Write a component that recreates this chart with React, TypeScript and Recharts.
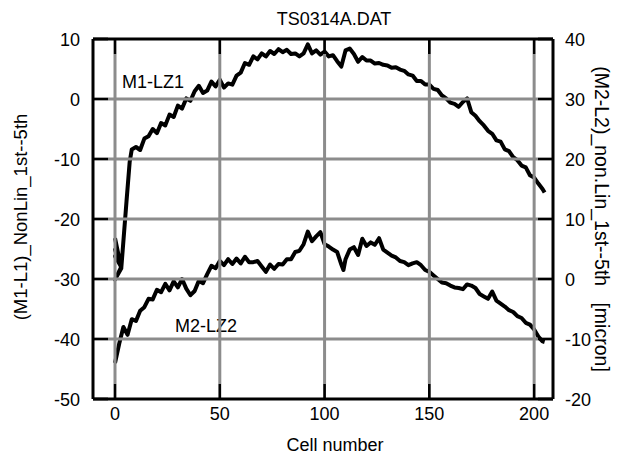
import { Line, LineChart, ReferenceDot, XAxis, YAxis } from 'recharts';

const FONT = '"Liberation Sans", Arial, sans-serif';

// M1-LZ1 (left axis). The first points go back and forth near cell 0.
const m1Cells = [
  0, 3, 0, 3, 0, 3, 0, 3, 5.5, 7, 8,
  10, 12, 14, 16, 18, 20, 22, 24, 26, 28,
  30, 32, 34, 36, 38, 40, 42, 44, 46, 48,
  50, 52, 54, 56, 58, 60, 62, 64, 66, 68,
  70, 72, 74, 76, 78, 80, 82, 84, 86, 88,
  90, 92, 94, 96, 98, 100, 102, 104, 106, 108,
  110, 112, 114, 116, 118, 120, 122, 124, 126, 128,
  130, 132, 134, 136, 138, 140, 142, 144, 146, 148,
  150, 152, 154, 156, 158, 160, 162, 164, 166, 168,
  170, 172, 174, 176, 178, 180, 182, 184, 186, 188,
  190, 192, 194, 196, 198, 200, 202, 204, 205,
];
const m1Values = [
  -23.2, -28.2, -25.1, -27.9, -26.2, -28.0, -30.1, -28.2, -17.0, -10.5, -8.4,
  -8.0, -8.5, -6.6, -6.2, -5.0, -5.7, -4.0, -4.4, -2.6, -3.0,
  -1.1, -1.6, 0.1, -0.3, 1.3, 2.2, 1.0, 1.4, 2.9, 2.1,
  3.2, 1.9, 2.6, 2.4, 3.9, 4.4, 6.0, 5.7, 7.1, 6.6,
  7.6, 7.1, 8.0, 7.5, 8.3, 7.8, 8.2, 7.5, 7.6, 7.1,
  7.6, 9.1, 7.6, 8.1, 7.4, 7.9, 7.1, 7.3, 6.3, 5.4,
  8.1, 8.4, 7.5, 6.2, 7.0, 6.4, 6.4, 5.9, 6.0, 5.7,
  5.6, 5.2, 5.3, 4.9, 4.7, 4.1, 3.9, 3.0, 3.0, 2.4,
  2.4, 1.7, 1.5, 0.6, 0.1, -0.6, -0.8, -1.3, -0.5, 0.1,
  -2.2, -2.8, -3.7, -4.4, -5.3, -5.8, -6.9, -7.1, -8.4, -8.7,
  -9.7, -10.2, -11.1, -11.4, -12.7, -13.1, -14.1, -15.0, -15.6,
];

// M2-LZ2 (right axis, micron)
const m2Cells = [
  0, 2, 4, 6, 8, 10, 12, 14, 16, 18,
  20, 22, 24, 26, 28, 30, 32, 34, 36, 38,
  40, 42, 44, 46, 48, 50, 52, 54, 56, 58,
  60, 62, 64, 66, 68, 70, 72, 74, 76, 78,
  80, 82, 84, 86, 88, 90, 92, 94, 96, 98,
  100, 102, 104, 106, 108, 109,
  110, 112, 114, 116, 118, 120, 122, 124, 126, 128,
  130, 132, 134, 136, 138, 140, 142, 144, 146, 148,
  150, 152, 154, 156, 158, 160, 162, 164, 166, 168,
  170, 172, 174, 176, 178, 180, 182, 184, 186, 188,
  190, 192, 194, 196, 198, 200, 202, 204, 205,
];
const m2Values = [
  -14.0, -10.8, -8.0, -9.3, -6.7, -7.0, -5.3, -4.7, -3.3, -3.4,
  -1.8, -2.2, -0.8, -1.9, -0.4, -1.4, 0.0, -1.6, -2.7, -2.0,
  -0.3, -0.7, 0.8, 2.2, 1.8, 3.0, 2.3, 3.3, 2.5, 3.4,
  2.6, 3.7, 2.8, 2.8, 3.0, 2.1, 1.2, 2.4, 1.7, 2.5,
  2.4, 3.3, 3.3, 4.5, 4.7, 5.8, 7.9, 6.3, 7.1, 7.8,
  5.8, 5.4, 4.9, 4.5, 2.4, 1.5,
  3.3, 4.9, 5.3, 4.0, 6.7, 5.5, 6.1, 5.7, 6.8, 4.9,
  4.4, 3.9, 3.6, 3.0, 2.8, 2.3, 2.6, 2.8, 2.3, 1.5,
  1.2, 0.6, 0.0, -0.6, -0.7, -1.1, -1.4, -1.5, -1.7, -0.9,
  -1.1, -1.5, -2.5, -2.9, -3.3, -2.1, -3.6, -4.1, -4.6, -5.2,
  -5.5, -6.2, -6.5, -7.3, -7.6, -8.4, -9.6, -10.4, -10.5,
];

const xTicks = [0, 50, 100, 150, 200];
const leftTicks = [-50, -40, -30, -20, -10, 0, 10];
const rightTicks = [-20, -10, 0, 10, 20, 30, 40];

const m1Data = m1Cells.map((cell, i) => ({ cell, value: m1Values[i] }));
const m2Data = m2Cells.map((cell, i) => ({ cell, value: m2Values[i] }));

// plot box size, used to run the grid lines from tick to tick
const PLOT_W = 460;
const PLOT_H = 360;
const TICK_LEN = 15;
const GRID_COLOR = '#8c8c8c';
const GRID_W = 3;
const axisLine = { stroke: '#000', strokeWidth: 3 };

const BottomTick = ({ x, y, payload }: any) => {
  const base = y - 21;
  return (
    <g>
      <path
        d={`M${x},${base - TICK_LEN}V${base - PLOT_H + TICK_LEN}`}
        stroke={GRID_COLOR}
        strokeWidth={GRID_W}
        fill="none"
      />
      <path d={`M${x},${base}V${base - TICK_LEN}`} stroke="#000" strokeWidth={2.7} fill="none" />
      <text x={x} y={y} textAnchor="middle" fontSize={18} fontFamily={FONT} fill="#000">
        {payload.value}
      </text>
    </g>
  );
};

const TopTick = ({ x, y }: any) => (
  <path d={`M${x},${y}V${y + TICK_LEN}`} stroke="#000" strokeWidth={2.7} fill="none" />
);

const LeftTick = ({ x, y, payload }: any) => {
  const base = x + 13;
  const inside = payload.value > -50 && payload.value < 10;
  return (
    <g>
      {inside && (
        <path
          d={`M${base + TICK_LEN},${y}H${base + PLOT_W - TICK_LEN}`}
          stroke={GRID_COLOR}
          strokeWidth={GRID_W}
          fill="none"
        />
      )}
      <path d={`M${base},${y}H${base + TICK_LEN}`} stroke="#000" strokeWidth={2.7} fill="none" />
      <text x={x} y={y} dy={6.5} textAnchor="end" fontSize={18} fontFamily={FONT} fill="#000">
        {payload.value}
      </text>
    </g>
  );
};

const RightTick = ({ x, y, payload }: any) => (
  <g>
    <path d={`M${x - 12},${y}H${x - 12 - TICK_LEN}`} stroke="#000" strokeWidth={2.7} fill="none" />
    <text x={x} y={y} dy={6.5} textAnchor="start" fontSize={18} fontFamily={FONT} fill="#000">
      {payload.value}
    </text>
  </g>
);

export default function App() {
  return (
    <div
      style={{
        position: 'absolute',
        left: 0,
        top: 0,
        width: 624,
        height: 461,
        background: '#fff',
        fontFamily: FONT,
      }}
    >
      <div
        style={{
          position: 'absolute',
          left: 234,
          top: 10,
          width: 200,
          textAlign: 'center',
          fontSize: 18,
          lineHeight: '18px',
        }}
      >
        TS0314A.DAT
      </div>
      <LineChart width={624} height={461} margin={{ top: 9, right: 0, bottom: 0, left: 0 }}>
        <XAxis
          dataKey="cell"
          type="number"
          domain={[-10.5, 209]}
          ticks={xTicks}
          interval={0}
          allowDataOverflow
          height={62}
          tickSize={0}
          tickMargin={21}
          tickLine={false}
          axisLine={axisLine}
          tick={<BottomTick />}
          label={{
            value: 'Cell number',
            position: 'insideBottom',
            offset: 10,
            dx: 12,
            fontSize: 18,
            fontFamily: FONT,
            fill: '#000',
          }}
        />
        <XAxis
          xAxisId="top"
          orientation="top"
          dataKey="cell"
          type="number"
          domain={[-10.5, 209]}
          ticks={xTicks}
          interval={0}
          allowDataOverflow
          height={30}
          tickSize={0}
          tickMargin={0}
          tickLine={false}
          axisLine={axisLine}
          tick={<TopTick />}
        />
        <YAxis
          yAxisId="left"
          type="number"
          domain={[-50, 10]}
          ticks={leftTicks}
          interval={0}
          allowDataOverflow
          width={93}
          tickSize={0}
          tickMargin={13}
          tickLine={false}
          axisLine={axisLine}
          tick={<LeftTick />}
          label={{
            value: '(M1-L1)_NonLin_1st--5th',
            angle: -90,
            position: 'insideLeft',
            offset: 20,
            dy: -2,
            fontSize: 18.5,
            fontFamily: FONT,
            fill: '#000',
            style: { textAnchor: 'middle' },
          }}
        />
        <YAxis
          yAxisId="right"
          orientation="right"
          type="number"
          domain={[-20, 40]}
          ticks={rightTicks}
          interval={0}
          allowDataOverflow
          width={71}
          tickSize={0}
          tickMargin={12}
          tickLine={false}
          axisLine={axisLine}
          tick={<RightTick />}
          label={{
            value: '(M2-L2)_non.Lin_1st--5th\u00a0\u00a0\u00a0[micron]',
            angle: 90,
            position: 'insideRight',
            offset: 22.5,
            fontSize: 19.5,
            fontFamily: FONT,
            fill: '#000',
            style: { textAnchor: 'middle' },
          }}
        />
        <Line
          data={m1Data}
          yAxisId="left"
          dataKey="value"
          type="linear"
          stroke="#000"
          strokeWidth={4}
          strokeLinejoin="round"
          dot={false}
          zIndex={600}
          isAnimationActive={false}
        />
        <Line
          data={m2Data}
          yAxisId="right"
          dataKey="value"
          type="linear"
          stroke="#000"
          strokeWidth={4}
          strokeLinejoin="round"
          dot={false}
          zIndex={600}
          isAnimationActive={false}
        />
        <ReferenceDot
          yAxisId="left"
          x={3.3}
          y={1.8}
          r={0}
          shape={(p: any) => (
            <text x={p.cx} y={p.cy} fontSize={18} fontFamily={FONT} fill="#000">
              M1-LZ1
            </text>
          )}
        />
        <ReferenceDot
          yAxisId="left"
          x={28.6}
          y={-38.75}
          r={0}
          shape={(p: any) => (
            <text x={p.cx} y={p.cy} fontSize={18} fontFamily={FONT} fill="#000">
              M2-LZ2
            </text>
          )}
        />
      </LineChart>
    </div>
  );
}
